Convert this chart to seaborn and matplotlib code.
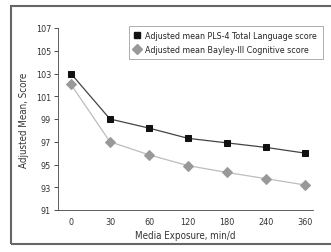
import numpy as np
import pandas as pd
import seaborn as sns
from matplotlib import pyplot as plt
from matplotlib.lines import Line2D
from matplotlib.patches import Rectangle

exposure = ['0', '30', '60', '120', '180', '240', '360']
pls4 = [103.0, 99.0, 98.2, 97.3, 96.9, 96.5, 96.0]
bayley = [102.05, 97.0, 95.85, 94.9, 94.3, 93.75, 93.2]
labels = ['Adjusted mean PLS-4 Total Language score',
          'Adjusted mean Bayley-III Cognitive score']

sns.set_style('ticks')
plt.rcParams['font.family'] = ['DejaVu Sans']
plt.rcParams['font.stretch'] = 'condensed'

df = pd.DataFrame({'pos': np.arange(len(exposure)), 'pls4': pls4, 'bayley': bayley})

fig = plt.figure(figsize=(3.31, 2.53), dpi=100)
ax = fig.add_axes([58 / 331, 1 - 211 / 253, (313 - 58) / 331, (211 - 29) / 253])

sns.lineplot(data=df, x='pos', y='bayley', ax=ax, color='#bdbdbd', lw=0.9,
             marker='D', markersize=5.2, markerfacecolor='#999999', markeredgecolor='#999999')
sns.lineplot(data=df, x='pos', y='pls4', ax=ax, color='#444444', lw=0.9,
             marker='s', markersize=4.6, markerfacecolor='#111111', markeredgecolor='#111111')

ax.set_xlim(-0.33, 6.2)
ax.set_ylim(91, 107)
ax.set_yticks(range(91, 108, 2))
ax.set_xticks(df['pos'])
ax.set_xticklabels(exposure)
ax.tick_params(axis='x', length=0, pad=5, labelsize=6.5, colors='#333333')
ax.tick_params(axis='y', length=3, width=0.6, pad=2, labelsize=6.5, colors='#333333')
sns.despine(ax=ax)
for s in ['left', 'bottom']:
    ax.spines[s].set_linewidth(0.6)
    ax.spines[s].set_color('#444444')
ax.set_xlabel('Media Exposure, min/d', fontsize=7, color='#333333', labelpad=3)
ax.set_ylabel('Adjusted Mean, Score', fontsize=7, color='#333333', labelpad=5)

handles = [Line2D([], [], ls='none', marker='s', markersize=5, color='#111111'),
           Line2D([], [], ls='none', marker='D', markersize=5, color='#999999')]
leg = ax.legend(handles, labels, loc='upper right', bbox_to_anchor=(1.055, 1.035),
                fontsize=6.4, frameon=True, fancybox=False, handlelength=0.8,
                handletextpad=0.5, borderpad=0.6, labelspacing=0.5)
leg.get_frame().set_edgecolor('#888888')
leg.get_frame().set_linewidth(0.6)

fig.patches.append(Rectangle((11 / 331, 1 - 245 / 253), 1.2, (245 - 7) / 253,
                             transform=fig.transFigure, fill=False,
                             edgecolor='#666666', lw=1.5))

fig.savefig('out.png', dpi=100)
